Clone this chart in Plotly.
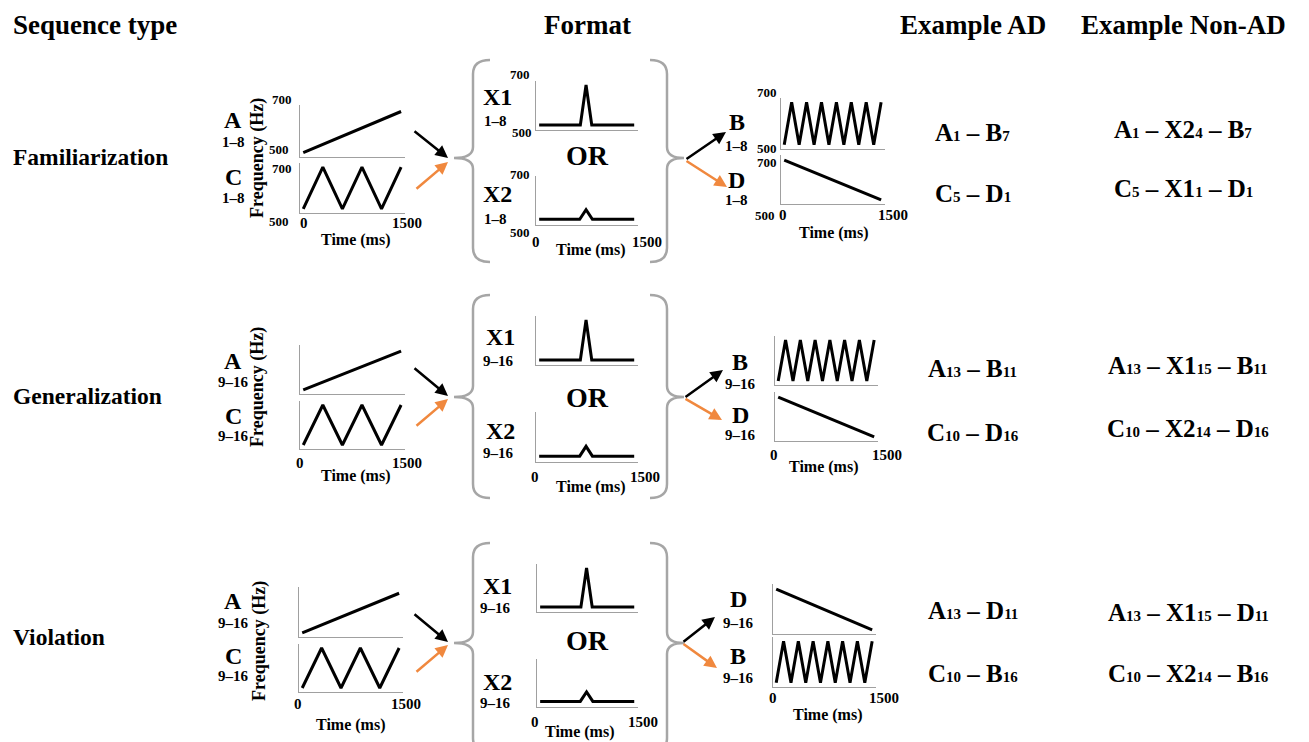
import plotly.graph_objects as go

W, H = 1309, 742
OFF = 8                      # default page margin of the html body
FW, FH = W - OFF, H - OFF    # figure size so it fills the window exactly
FONT = "Liberation Serif"

# ---------------- data (frequency contours, Hz vs ms) ----------------
T_RAMP = [0, 1500]
A_FREQ = [500, 690]          # rising ramp
D_FREQ = [695, 500]          # falling ramp
T_C = [0, 300, 600, 900, 1200, 1500]
C_FREQ = [500, 700, 500, 700, 500, 700]
T_B = [0, 115, 231, 346, 462, 577, 692, 808, 923, 1038, 1154, 1269, 1385, 1500]
B_FREQ = [500, 700, 500, 700, 500, 700, 500, 700, 500, 700, 500, 700, 500, 700]
T_X1 = [0, 650, 740, 830, 1500]
X1_FREQ = [505, 505, 700, 505, 505]
T_X2 = [0, 640, 740, 840, 1500]
X2_FREQ = [508, 508, 555, 508, 508]

SERIES = {
    "A": (T_RAMP, A_FREQ), "B": (T_B, B_FREQ), "C": (T_C, C_FREQ),
    "D": (T_RAMP, D_FREQ), "X1": (T_X1, X1_FREQ), "X2": (T_X2, X2_FREQ),
}

ROW_NAMES = ["Familiarization", "Generalization", "Violation"]
ROW_RANGES = ["1–8", "9–16", "9–16"]
RIGHT_ORDER = [["B", "D"], ["B", "D"], ["D", "B"]]
HEADERS = ["Sequence type", "Format", "Example AD", "Example Non-AD"]

# example sequences: (main, sub) pieces
EX_AD = [
    [[("A", "1"), ("B", "7")], [("C", "5"), ("D", "1")]],
    [[("A", "13"), ("B", "11")], [("C", "10"), ("D", "16")]],
    [[("A", "13"), ("D", "11")], [("C", "10"), ("B", "16")]],
]
EX_NONAD = [
    [[("A", "1"), ("X2", "4"), ("B", "7")], [("C", "5"), ("X1", "1"), ("D", "1")]],
    [[("A", "13"), ("X1", "15"), ("B", "11")], [("C", "10"), ("X2", "14"), ("D", "16")]],
    [[("A", "13"), ("X1", "15"), ("D", "11")], [("C", "10"), ("X2", "14"), ("B", "16")]],
]

# ---------------- layout geometry (window pixels) ----------------
# mini-plot boxes: x_left, x_right, y_top, y_bottom
BOXES = [
    {"L": [(300, 405, 105, 157), (300, 405, 163, 213)],
     "M": [(536, 638, 81, 130), (536, 638, 176, 225)],
     "R": [(781, 885, 98, 149), (781, 885, 155, 204)]},
    {"L": [(300, 405, 345, 394), (300, 405, 401, 449)],
     "M": [(536, 638, 316, 365), (536, 638, 412, 462)],
     "R": [(775, 878, 336, 385), (775, 878, 392, 441)]},
    {"L": [(299, 403, 587, 637), (299, 403, 644, 692)],
     "M": [(537, 638, 564, 612), (537, 638, 659, 707)],
     "R": [(773, 876, 584, 634), (773, 876, 637, 687)]},
]
XR = [-50, 1560]
YR = [480, 720]


def X(px):
    return (px - OFF) / FW


def Y(py):
    return 1 - (py - OFF) / FH


fig = go.Figure()
layout = {}
annotations = []
shapes = []

idx = 0
for r in range(3):
    groups = {"L": ["A", "C"], "M": ["X1", "X2"], "R": RIGHT_ORDER[r]}
    for g in ["L", "M", "R"]:
        for k, name in enumerate(groups[g]):
            idx += 1
            x0, x1, yt, yb = BOXES[r][g][k]
            t, f = SERIES[name]
            fig.add_trace(go.Scatter(x=t, y=f, mode="lines",
                                     line=dict(color="black", width=3),
                                     xaxis=f"x{idx}", yaxis=f"y{idx}",
                                     showlegend=False, hoverinfo="skip"))
            ax_common = dict(showline=True, linecolor="#a0a0a0", linewidth=1.2,
                             showgrid=False, zeroline=False, showticklabels=False,
                             ticks="", fixedrange=True)
            layout[f"xaxis{idx}"] = dict(domain=[X(x0), X(x1)], range=XR,
                                         anchor=f"y{idx}", **ax_common)
            layout[f"yaxis{idx}"] = dict(domain=[Y(yb), Y(yt)], range=YR,
                                         anchor=f"x{idx}", **ax_common)


def txt(s, x, y, size, xanchor="center", angle=0):
    annotations.append(dict(text=f"<b>{s}</b>", x=X(x), y=Y(y), xref="paper", yref="paper",
                            showarrow=False, xanchor=xanchor, yanchor="middle",
                            textangle=angle, borderpad=0,
                            font=dict(family=FONT, size=size, color="black")))


def arrow(tx, ty, hx, hy, color):
    annotations.append(dict(text="", x=X(hx), y=Y(hy), xref="paper", yref="paper",
                            ax=tx - hx, ay=ty - hy, axref="pixel", ayref="pixel",
                            showarrow=True, arrowhead=2, arrowsize=1, arrowwidth=2.5,
                            arrowcolor=color))


def brace(xe, xv, xp, yt, ym, yb, r=14, rm=11):
    p = (f"M {X(xe)},{Y(yt)} Q {X(xv)},{Y(yt)} {X(xv)},{Y(yt + r)} "
         f"L {X(xv)},{Y(ym - rm)} Q {X(xv)},{Y(ym)} {X(xp)},{Y(ym)} "
         f"Q {X(xv)},{Y(ym)} {X(xv)},{Y(ym + rm)} "
         f"L {X(xv)},{Y(yb - r)} Q {X(xv)},{Y(yb)} {X(xe)},{Y(yb)}")
    shapes.append(dict(type="path", path=p, xref="paper", yref="paper",
                       line=dict(color="#a6a6a6", width=2.5)))


def example(pieces, x, y):
    parts = []
    for main, sub in pieces:
        parts.append(f"{main}<span style='font-size:15px'>{sub}</span>")
    txt(" – ".join(parts), x, y, 25)


ORANGE = "#f0883e"

# headers
txt(HEADERS[0], 12, 25, 27, xanchor="left")
txt(HEADERS[1], 587, 25, 27)
txt(HEADERS[2], 973, 25, 27)
txt(HEADERS[3], 1183, 25, 27)

# row labels
for name, yy in zip(ROW_NAMES, [157, 396, 637]):
    txt(name, 12, yy, 23.5, xanchor="left")

# ---- left group labels ----
LEFT_LBL = [(120, 142, 177, 198), (361, 382, 416, 436), (601, 623, 656, 676)]
FREQ_Y = [(257, 158), (257, 387), (259, 641)]
LEFT_TICK = [(304, 407, 223, 355, 240), (300, 407, 463, 355, 476), (298, 406, 704, 350, 725)]
for r in range(3):
    a1, a2, c1, c2 = LEFT_LBL[r]
    txt("A", 233, a1, 24)
    txt(ROW_RANGES[r], 233, a2, 15)
    txt("C", 233, c1, 24)
    txt(ROW_RANGES[r], 233, c2, 15)
    fx, fy = FREQ_Y[r]
    txt("Frequency (Hz)", fx, fy, 18, angle=-90)
    x0l, x1l, yl, xt, yt = LEFT_TICK[r]
    txt("0", x0l, yl, 15)
    txt("1500", x1l, yl, 15)
    txt("Time (ms)", xt, yt, 16)

# row 1 frequency tick labels
for (xx, yy, s) in [(282, 99, "700"), (279, 150, "500"), (282, 168, "700"), (279, 222, "500"),
                    (520, 75, "700"), (522, 132, "500"), (520, 175, "700"), (520, 232, "500"),
                    (767, 93, "700"), (767, 148, "500"), (767, 162, "700"), (765, 215, "500")]:
    txt(s, xx, yy, 13)

# ---- middle group labels ----
MID_LBL = [(497, 97, 121, 194, 219, 155), (500, 337, 361, 431, 453, 397),
           (497, 586, 608, 682, 703, 640)]
MID_TICK = [(536, 647, 242, 590, 250), (535, 645, 477, 590, 487), (535, 643, 722, 579, 732)]
for r in range(3):
    mx, x1y, r1y, x2y, r2y, ory = MID_LBL[r]
    txt("X1", mx, x1y, 24)
    txt(ROW_RANGES[r], mx - 2, r1y, 15)
    txt("OR", 587, ory, 28)
    txt("X2", mx, x2y, 24)
    txt(ROW_RANGES[r], mx - 2, r2y, 15)
    a, b, yl, xt, yt = MID_TICK[r]
    txt("0", a, yl, 15)
    txt("1500", b, yl, 15)
    txt("Time (ms)", xt, yt, 16)

# ---- right group labels ----
RIGHT_LBL = [(737, 122, 146, 180, 200), (740, 362, 384, 415, 435), (738, 599, 623, 656, 678)]
RIGHT_TICK = [(783, 893, 215, 833, 233), (774, 887, 455, 823, 467), (773, 884, 698, 827, 715)]
for r in range(3):
    rx, l1, r1, l2, r2 = RIGHT_LBL[r]
    n1, n2 = RIGHT_ORDER[r]
    txt(n1, rx, l1, 24)
    txt(ROW_RANGES[r], rx, r1, 15)
    txt(n2, rx, l2, 24)
    txt(ROW_RANGES[r], rx, r2, 15)
    a, b, yl, xt, yt = RIGHT_TICK[r]
    txt("0", a, yl, 15)
    txt("1500", b, yl, 15)
    txt("Time (ms)", xt, yt, 16)

# ---- braces ----
BRACE_Y = [(60, 158, 262), (295, 397, 498), (543, 643, 752)]
for yt, ym, yb in BRACE_Y:
    brace(490, 473, 454, yt, ym, yb)
    brace(650, 667, 684, yt, ym, yb)

# ---- arrows ----
ARROWS = [
    [(413, 130, 448, 158, "black"), (415, 190, 448, 162, ORANGE),
     (685, 160, 726, 132, "black"), (685, 160, 727, 187, ORANGE)],
    [(413, 367, 448, 396, "black"), (415, 427, 448, 399, ORANGE),
     (684, 398, 723, 370, "black"), (684, 398, 722, 420, ORANGE)],
    [(413, 613, 448, 642, "black"), (415, 673, 448, 645, ORANGE),
     (682, 643, 715, 617, "black"), (682, 643, 717, 668, ORANGE)],
]
for row in ARROWS:
    for tx, ty, hx, hy, c in row:
        arrow(tx, ty, hx, hy, c)

# ---- examples ----
EX_POS_AD = [(973, 132, 193), (973, 368, 432), (973, 610, 673)]
EX_POS_NON = [(1183, 129, 188), (1188, 365, 428), (1188, 612, 673)]
for r in range(3):
    x, y1, y2 = EX_POS_AD[r]
    example(EX_AD[r][0], x, y1)
    example(EX_AD[r][1], x, y2)
    x, y1, y2 = EX_POS_NON[r]
    example(EX_NONAD[r][0], x, y1)
    example(EX_NONAD[r][1], x, y2)

fig.update_layout(width=FW, height=FH, margin=dict(l=0, r=0, t=0, b=0),
                  paper_bgcolor="white", plot_bgcolor="white",
                  annotations=annotations, shapes=shapes, showlegend=False,
                  **layout)

fig.write_html("out.html", config={"displayModeBar": False})
